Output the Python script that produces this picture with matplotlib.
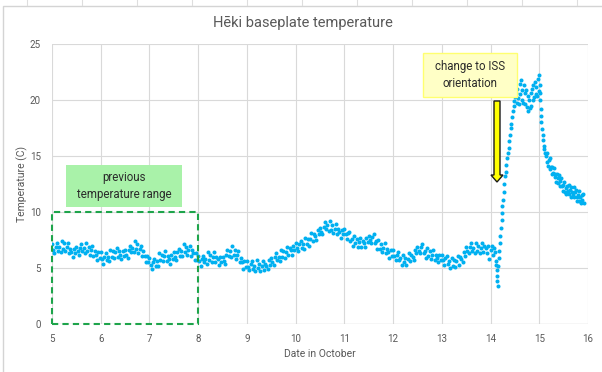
import matplotlib
matplotlib.use('Agg')
import matplotlib.pyplot as plt
import numpy as np
from matplotlib.patches import Rectangle, FancyArrow
from matplotlib.lines import Line2D

# ---------------- data ----------------
title = "Hēki baseplate temperature"
x_label = "Date in October"
y_label = "Temperature (C)"
x_ticks = [5, 6, 7, 8, 9, 10, 11, 12, 13, 14, 15, 16]
y_ticks = [0, 5, 10, 15, 20, 25]

# regularly sampled readings (every 0.025 day) from 5.0 to 14.075
base_start = 5.0
base_step = 0.025
base_temp = [
    7.1, 6.6, 6.3, 6.9, 7.2, 6.5, 6.9, 6.4, 7.4, 6.7, 7.2, 6.5, 6.9, 7.2, 6.3, 6.7, 6.4, 6.0, 6.7, 6.3,
    6.9, 6.5, 6.2, 6.8, 7.1, 6.5, 6.8, 6.3, 7.2, 6.5, 6.9, 6.2, 6.6, 7.0, 6.1, 6.5, 6.2, 5.7, 6.4, 5.9,
    6.4, 5.8, 5.4, 6.0, 6.3, 5.7, 6.0, 5.6, 6.6, 6.0, 6.5, 5.9, 6.4, 6.8, 6.0, 6.5, 6.2, 5.8, 6.5, 6.1,
    6.6, 6.2, 5.9, 6.6, 7.0, 6.4, 6.8, 6.4, 7.4, 6.7, 7.1, 6.3, 6.7, 7.0, 6.1, 6.5, 6.1, 5.5, 6.1, 5.5,
    5.9, 5.3, 4.9, 5.5, 5.8, 5.2, 5.6, 5.2, 6.3, 5.7, 6.2, 5.6, 6.1, 6.5, 5.6, 6.1, 5.8, 5.4, 6.2, 5.8,
    6.4, 6.0, 5.7, 6.4, 6.7, 6.1, 6.5, 6.1, 7.1, 6.4, 6.9, 6.2, 6.6, 7.0, 6.1, 6.6, 6.3, 5.7, 6.3, 5.7,
    6.1, 5.6, 5.2, 5.8, 6.1, 5.5, 5.8, 5.4, 6.4, 5.7, 6.2, 5.5, 6.0, 6.4, 5.5, 6.0, 5.8, 5.3, 6.0, 5.5,
    6.0, 5.6, 5.4, 6.2, 6.6, 6.1, 6.5, 6.0, 7.0, 6.2, 6.6, 5.8, 6.2, 6.5, 5.5, 5.9, 5.5, 4.9, 5.6, 5.1,
    5.6, 5.1, 4.8, 5.4, 5.6, 4.9, 5.2, 4.7, 5.7, 5.0, 5.4, 4.7, 5.2, 5.6, 4.8, 5.4, 5.2, 4.9, 5.7, 5.3,
    5.9, 5.5, 5.3, 6.0, 6.3, 5.7, 6.0, 5.6, 6.6, 6.0, 6.5, 5.9, 6.4, 6.9, 6.2, 6.8, 6.6, 6.2, 7.0, 6.6,
    7.2, 6.8, 6.5, 7.1, 7.4, 6.8, 7.1, 6.7, 7.7, 7.1, 7.6, 7.0, 7.6, 8.1, 7.4, 8.0, 7.9, 7.5, 8.4, 8.0,
    8.6, 8.2, 8.0, 8.7, 9.1, 8.5, 8.8, 8.3, 9.2, 8.4, 8.8, 8.1, 8.5, 8.9, 8.0, 8.5, 8.2, 7.7, 8.4, 8.0,
    8.5, 8.0, 7.6, 8.1, 8.2, 7.4, 7.6, 7.0, 7.9, 7.2, 7.6, 6.9, 7.3, 7.7, 6.9, 7.4, 7.2, 6.9, 7.7, 7.3,
    7.9, 7.5, 7.2, 7.8, 8.0, 7.2, 7.4, 6.7, 7.5, 6.7, 7.1, 6.4, 6.8, 7.2, 6.3, 6.7, 6.4, 5.9, 6.6, 6.1,
    6.6, 6.1, 5.7, 6.2, 6.4, 5.7, 5.9, 5.3, 6.2, 5.5, 5.9, 5.3, 5.8, 6.3, 5.6, 6.2, 6.0, 5.7, 6.6, 6.3,
    6.9, 6.5, 6.3, 6.9, 7.1, 6.3, 6.5, 5.9, 6.8, 6.1, 6.5, 5.8, 6.2, 6.6, 5.7, 6.2, 5.9, 5.5, 6.2, 5.7,
    6.2, 5.7, 5.3, 5.9, 6.1, 5.4, 5.6, 5.0, 5.9, 5.2, 5.7, 5.1, 5.6, 6.1, 5.3, 6.0, 5.8, 5.5, 6.4, 6.1,
    6.9, 6.5, 6.3, 6.9, 7.2, 6.5, 6.8, 6.3, 7.2, 6.5, 7.0, 6.3, 6.8, 7.2, 6.4, 7.0, 6.8, 6.3, 7.0, 5.8,
    6.6, 7.0, 6.2, 6.8,
]

# readings after the orientation change (irregular times)
event_day = [
    14.10, 14.115, 14.12, 14.13, 14.135, 14.14, 14.145, 14.155, 14.165, 14.175,
    14.185, 14.195, 14.21, 14.225, 14.235, 14.245, 14.26, 14.27, 14.285, 14.295,
    14.31, 14.325, 14.34, 14.355, 14.37, 14.385, 14.40, 14.415, 14.43, 14.445,
    14.46, 14.475, 14.49, 14.505, 14.52, 14.535, 14.55, 14.565, 14.58, 14.595,
    14.61, 14.625, 14.64, 14.655, 14.67, 14.685, 14.70, 14.715, 14.73, 14.745,
    14.76, 14.775, 14.79, 14.805, 14.82, 14.835, 14.85, 14.865, 14.88, 14.895,
    14.91, 14.925, 14.94, 14.955, 14.97, 14.985, 15.00, 15.01, 15.015, 15.02,
    15.03, 15.035, 15.045, 15.06, 15.07, 15.08, 15.09, 15.105, 15.12, 15.135,
    15.15, 15.165, 15.18, 15.195, 15.21, 15.225, 15.24, 15.255, 15.27, 15.285,
    15.30, 15.315, 15.33, 15.345, 15.36, 15.375, 15.39, 15.405, 15.42, 15.435,
    15.45, 15.465, 15.48, 15.495, 15.51, 15.525, 15.54, 15.555, 15.57, 15.585,
    15.60, 15.615, 15.63, 15.645, 15.66, 15.675, 15.69, 15.705, 15.72, 15.735,
    15.75, 15.765, 15.78, 15.795, 15.81, 15.825, 15.84, 15.855, 15.87, 15.885,
    15.90, 15.915,
]
event_temp = [
    6.4, 5.6, 5.3, 4.8, 4.3, 3.8, 3.4, 5.2, 5.9, 6.5,
    7.2, 7.9, 8.6, 9.3, 9.9, 10.5, 11.1, 11.8, 12.5, 13.2,
    13.6, 14.2, 14.8, 15.3, 15.7, 16.3, 16.9, 17.5, 17.9, 18.5,
    19.0, 19.5, 19.9, 20.3, 20.6, 19.7, 21.0, 20.2, 19.6, 21.4,
    20.5, 21.8, 20.0, 20.9, 19.7, 21.3, 20.6, 19.6, 20.9, 19.4,
    20.4, 19.0, 20.0, 19.3, 20.6, 19.5, 21.0, 20.0, 21.3, 20.3,
    21.6, 20.5, 21.2, 20.4, 21.9, 20.8, 22.2, 21.3, 20.6, 20.0,
    19.2, 18.6, 18.0, 17.4, 16.9, 16.4, 15.9, 15.6, 15.3, 15.0,
    15.3, 14.5, 14.1, 14.6, 14.8, 13.8, 14.0, 13.4, 14.0, 13.5,
    13.9, 13.1, 13.4, 12.7, 13.4, 13.0, 12.6, 13.3, 12.3, 12.8,
    13.0, 12.3, 11.9, 12.4, 12.7, 11.8, 12.1, 11.6, 12.3, 11.9,
    12.4, 11.6, 12.0, 11.3, 12.2, 11.8, 11.5, 12.2, 11.3, 11.8,
    12.0, 11.3, 11.0, 11.5, 11.9, 11.0, 11.3, 10.8, 11.5, 11.1,
    11.6, 10.8,
]

prev_range_days = [5, 8]
prev_range_temp = [0, 10]
green_note = "previous\ntemperature range"
yellow_note = "change to ISS\norientation"

# ---------------- plot ----------------
plt.rcParams['font.family'] = ['Roboto', 'DejaVu Sans']

base_day = base_start + base_step * np.arange(len(base_temp))
days = np.concatenate([base_day, np.array(event_day)])
temps = np.concatenate([np.array(base_temp), np.array(event_temp)])

W, H = 602, 372
fig = plt.figure(figsize=(W / 100, H / 100), dpi=100)

# outer chart frame and spreadsheet cell lines
fig.patches.append(Rectangle((2.5 / W, -0.1), 1.2, (H - 5.5) / H + 0.1,
                             transform=fig.transFigure, fill=False,
                             ec='#d4d4d4', lw=1.0))
for xp in range(27, W, 55):
    fig.add_artist(Line2D([xp / W, xp / W], [1.0, (H - 5) / H],
                          transform=fig.transFigure, color='#dedede', lw=0.8))

ax = fig.add_axes([52 / W, 48 / H, 536 / W, 280 / H])
ax.plot(days, temps, 'o', ms=2.9, mew=0, color='#00b0f0', zorder=3)

ax.set_xlim(x_ticks[0], x_ticks[-1])
ax.set_ylim(y_ticks[0], y_ticks[-1])
ax.set_xticks(x_ticks)
ax.set_yticks(y_ticks)
ax.grid(True, color='#d9d9d9', lw=0.8)
ax.set_axisbelow(True)
for s in ax.spines.values():
    s.set_visible(False)
ax.axhline(0, color='#cfcfcf', lw=0.9, zorder=1)
ax.tick_params(length=0, labelsize=7, labelcolor='#595959')
ax.tick_params(axis='x', pad=7)
ax.tick_params(axis='y', pad=8)

fig.text(302.5 / W, 1 - 22.5 / H, title, ha='center', va='center',
         fontsize=10.5, color='#595959')
fig.text(320 / W, 1 - 354 / H, x_label, ha='center', va='center',
         fontsize=7.5, color='#595959')
fig.text(22 / W, 1 - 184 / H, y_label, ha='center', va='center',
         rotation=90, fontsize=7.5, color='#595959')

# dashed rectangle for the previous range
ax.add_patch(Rectangle((prev_range_days[0], prev_range_temp[0]),
                       prev_range_days[1] - prev_range_days[0],
                       prev_range_temp[1] - prev_range_temp[0],
                       fill=False, ec='#1ea44b', lw=1.5, ls=(0, (3, 2)),
                       clip_on=False, zorder=4))

def px2data(px, py):
    return ax.transData.inverted().transform(fig.transFigure.transform((px / W, 1 - py / H)))

# green note box
(gx0, gy0) = px2data(66, 207)
(gx1, gy1) = px2data(182, 165)
ax.add_patch(Rectangle((gx0, gy0), gx1 - gx0, gy1 - gy0, fc='#a9f2a9', ec='none', zorder=5))
ax.text((gx0 + gx1) / 2, (gy0 + gy1) / 2, green_note, ha='center', va='center',
        fontsize=8.3, color='#2b2b2b', linespacing=1.35, zorder=6)

# yellow note box
(yx0, yy0) = px2data(423, 97)
(yx1, yy1) = px2data(517, 53)
ax.add_patch(Rectangle((yx0, yy0), yx1 - yx0, yy1 - yy0, fc='#ffffc6', ec='#ffff70',
                       lw=1.0, zorder=5, clip_on=False))
ax.text((yx0 + yx1) / 2, (yy0 + yy1) / 2, yellow_note, ha='center', va='center',
        fontsize=8.3, color='#2b2b2b', linespacing=1.35, zorder=6)

# arrow
(ax_x, ax_top) = px2data(497, 101)
(_, ax_tip) = px2data(497, 182)
(w0, _) = px2data(494, 0)
(w1, _) = px2data(500, 0)
(h0, _) = px2data(491, 0)
(h1, _) = px2data(503, 0)
(_, hl0) = px2data(0, 175)
ax.add_patch(FancyArrow(ax_x, ax_top, 0, ax_tip - ax_top, width=w1 - w0,
                        head_width=h1 - h0, head_length=hl0 - ax_tip,
                        length_includes_head=True, fc='#ffff00', ec='#1a1a1a',
                        lw=1.0, zorder=6))

fig.savefig('out.png', dpi=100)
